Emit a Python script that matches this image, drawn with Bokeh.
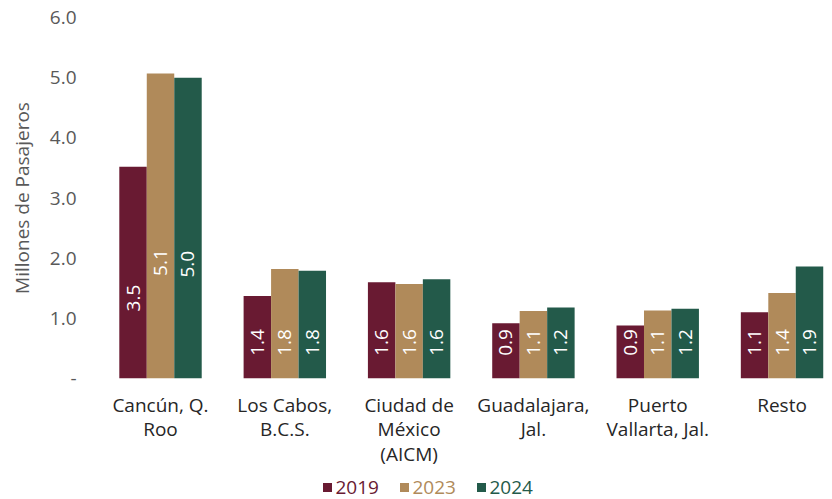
from bokeh.plotting import figure
from bokeh.layouts import column
from bokeh.models import ColumnDataSource, Range1d, FixedTicker
from bokeh.embed import file_html
from bokeh.resources import INLINE
from bokeh.core.properties import value

categories = ["Cancún, Q.\nRoo", "Los Cabos,\nB.C.S.", "Ciudad de\nMéxico\n(AICM)",
              "Guadalajara,\nJal.", "Puerto\nVallarta, Jal.", "Resto"]
years = ["2019", "2023", "2024"]
v2019 = [3.52, 1.37, 1.60, 0.92, 0.88, 1.10]
v2023 = [5.07, 1.82, 1.57, 1.12, 1.13, 1.42]
v2024 = [5.00, 1.79, 1.65, 1.18, 1.16, 1.86]
y_ticks = [0, 1, 2, 3, 4, 5, 6]
y_tick_labels = ["-", "1.0", "2.0", "3.0", "4.0", "5.0", "6.0"]
colors = ["#691A32", "#B08A5A", "#235A4A"]

FONT = "Open Sans"
FS = "19px"

W = 832
LEFT = 95
p = figure(width=W, height=470, output_backend="svg", toolbar_location=None,
           x_range=Range1d(-0.523, 5.406), y_range=Range1d(0, 6),
           min_border_left=LEFT, min_border_right=0, min_border_top=17, min_border_bottom=92)
p.outline_line_color = None
p.xgrid.grid_line_color = None
p.ygrid.grid_line_color = None

bw = 0.221
offsets = [-bw, 0.0, bw]
series = [v2019, v2023, v2024]
for yr, vals, off, col in zip(years, series, offsets, colors):
    xs = [i + off for i in range(len(categories))]
    labels = [f"{v:.1f}" for v in vals]
    ly = [v * 0.38 if v > 3 else 0.6 for v in vals]
    src = ColumnDataSource(dict(x=xs, top=vals, lab=labels, ly=ly))
    p.vbar(x="x", top="top", width=bw, bottom=0, source=src,
           fill_color=col, line_color=None)
    p.text(x="x", y="ly", text="lab", source=src, angle=1.5708,
           text_align="center", text_baseline="middle", text_color="white",
           text_font=value(FONT), text_font_size=FS)

# y axis
p.yaxis.ticker = FixedTicker(ticks=y_ticks)
p.yaxis.major_label_overrides = {t: l for t, l in zip(y_ticks, y_tick_labels)}
p.yaxis.axis_line_color = None
p.yaxis.major_tick_line_color = None
p.yaxis.minor_tick_line_color = None
p.yaxis.major_tick_out = 0
p.yaxis.major_label_standoff = 19
p.yaxis.major_label_text_font = FONT
p.yaxis.major_label_text_font_size = FS
p.yaxis.major_label_text_color = "#595959"
p.yaxis.axis_label = "Millones de Pasajeros"
p.yaxis.axis_label_text_font = FONT
p.yaxis.axis_label_text_font_size = FS
p.yaxis.axis_label_text_font_style = "normal"
p.yaxis.axis_label_text_color = "#595959"
p.yaxis.axis_label_standoff = 12

# x axis
p.xaxis.ticker = FixedTicker(ticks=list(range(len(categories))))
p.xaxis.major_label_overrides = {i: c for i, c in enumerate(categories)}
p.xaxis.axis_line_color = None
p.xaxis.major_tick_line_color = None
p.xaxis.minor_tick_line_color = None
p.xaxis.major_tick_out = 0
p.xaxis.major_label_standoff = 13
p.xaxis.major_label_text_font = FONT
p.xaxis.major_label_text_font_size = FS
p.xaxis.major_label_text_color = "#262626"
p.xaxis.major_label_text_line_height = 0.95

# legend strip (second figure without axes; its frame is aligned with the main frame,
# so its x range is expressed in page pixels from LEFT to W)
LH = 29
leg = figure(width=W, height=LH, output_backend="svg", toolbar_location=None,
             x_range=Range1d(LEFT, W), y_range=Range1d(0, LH),
             x_axis_location=None, y_axis_location=None,
             min_border_left=LEFT, min_border_right=0, min_border_top=0, min_border_bottom=0)
leg.xgrid.grid_line_color = None
leg.ygrid.grid_line_color = None
leg.outline_line_color = None
gx = [327 + 77 * i for i in range(len(years))]
tx = [g + 8 for g in gx]
lsrc = ColumnDataSource(dict(gx=gx, tx=tx, y=[12] * len(years), yr=years, c=colors))
leg.scatter(x="gx", y="y", marker="square", size=9, fill_color="c", line_color=None, source=lsrc)
leg.text(x="tx", y="y", text="yr", text_color="c", text_align="left", text_baseline="middle",
         text_font=value(FONT), text_font_size=FS, source=lsrc)

open("out.html", "w").write(file_html(column(p, leg, spacing=0), INLINE))
